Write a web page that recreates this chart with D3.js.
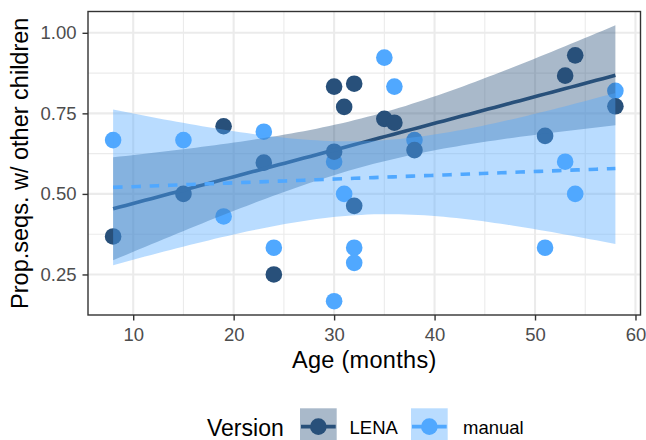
<!DOCTYPE html>
<html lang="en">
<head>
<meta charset="utf-8">
<title>Prop.seqs. w/ other children by age</title>
<script src="https://cdnjs.cloudflare.com/ajax/libs/d3/7.8.5/d3.min.js"></script>
<style>
  body { margin: 0; background: #fff; }
  svg text { font-family: "Liberation Sans", Arial, Helvetica, sans-serif; }
</style>
</head>
<body>
<div id="chart"></div>
<script>
// data (age in months, proportion)
const ageLENA = [8, 15, 19, 23, 24, 30, 30, 31, 32, 32, 35, 36, 38, 51, 53, 54, 58];
const propLENA = [0.368, 0.50, 0.71, 0.597, 0.25, 0.833, 0.631, 0.77, 0.842, 0.463, 0.733, 0.721, 0.636, 0.68, 0.867, 0.93, 0.772];
const ageManual = [8, 15, 19, 23, 24, 30, 30, 31, 32, 32, 35, 36, 38, 51, 53, 54, 58];
const propManual = [0.667, 0.667, 0.43, 0.693, 0.333, 0.60, 0.167, 0.50, 0.333, 0.286, 0.923, 0.833, 0.667, 0.333, 0.60, 0.50, 0.82];
const versions = ["LENA", "manual"];
const xTicks = [10, 20, 30, 40, 50, 60];
const yTicks = [0.25, 0.50, 0.75, 1.00];

const colors = { LENA: "#28507a", manual: "#50a8ff" };
const T_CRIT = 2.131; // qt(0.975, df = 15)

const w = 646, h = 440;
const panel = { left: 88, right: 640.5, top: 11.5, bottom: 315 };

// lm fit with 95% confidence band, like geom_smooth(method = "lm")
function fitLm(xs, ys) {
  const n = xs.length;
  const mx = d3.mean(xs), my = d3.mean(ys);
  let sxx = 0, sxy = 0;
  xs.forEach((x, i) => { sxx += (x - mx) ** 2; sxy += (x - mx) * (ys[i] - my); });
  const b = sxy / sxx, a = my - b * mx;
  let sse = 0;
  xs.forEach((x, i) => { sse += (ys[i] - a - b * x) ** 2; });
  const s = Math.sqrt(sse / (n - 2));
  const [x0, x1] = d3.extent(xs);
  return d3.range(80).map(k => {
    const x = x0 + (x1 - x0) * k / 79;
    const fit = a + b * x;
    const se = s * Math.sqrt(1 / n + (x - mx) ** 2 / sxx);
    return { x: x, y: fit, lo: fit - T_CRIT * se, hi: fit + T_CRIT * se };
  });
}

const groups = {
  LENA: ageLENA.map((a, i) => ({ age: a, prop: propLENA[i] })),
  manual: ageManual.map((a, i) => ({ age: a, prop: propManual[i] }))
};
const smooth = {
  LENA: fitLm(ageLENA, propLENA),
  manual: fitLm(ageManual, propManual)
};

// scale limits with ggplot's 5% expansion
const allX = ageLENA.concat(ageManual);
const allY = propLENA.concat(propManual,
  smooth.LENA.map(d => d.lo), smooth.LENA.map(d => d.hi),
  smooth.manual.map(d => d.lo), smooth.manual.map(d => d.hi));
const xr = d3.extent(allX), yr = d3.extent(allY);
const xe = (xr[1] - xr[0]) * 0.05, ye = (yr[1] - yr[0]) * 0.05;

const xScale = d3.scaleLinear().domain([xr[0] - xe, xr[1] + xe]).range([panel.left, panel.right]);
const yScale = d3.scaleLinear().domain([yr[0] - ye, yr[1] + ye]).range([panel.bottom, panel.top]);

const svg = d3.select("#chart").append("svg")
  .attr("width", w).attr("height", h)
  .style("display", "block");
svg.append("rect").attr("width", w).attr("height", h).attr("fill", "#fff");

const clip = svg.append("clipPath").attr("id", "panelclip").append("rect")
  .attr("x", panel.left).attr("y", panel.top)
  .attr("width", panel.right - panel.left).attr("height", panel.bottom - panel.top);

// grid
const grid = svg.append("g");
const xMinor = [15, 25, 35, 45, 55];
const yMinor = [0.375, 0.625, 0.875];
grid.selectAll(".xminor").data(xMinor).enter().append("line")
  .attr("x1", d => xScale(d)).attr("x2", d => xScale(d))
  .attr("y1", panel.top).attr("y2", panel.bottom)
  .attr("stroke", "#ebebeb").attr("stroke-width", 1.1);
grid.selectAll(".yminor").data(yMinor).enter().append("line")
  .attr("y1", d => yScale(d)).attr("y2", d => yScale(d))
  .attr("x1", panel.left).attr("x2", panel.right)
  .attr("stroke", "#ebebeb").attr("stroke-width", 1.1);
grid.selectAll(".xmajor").data(xTicks).enter().append("line")
  .attr("x1", d => xScale(d)).attr("x2", d => xScale(d))
  .attr("y1", panel.top).attr("y2", panel.bottom)
  .attr("stroke", "#ebebeb").attr("stroke-width", 2.1);
grid.selectAll(".ymajor").data(yTicks).enter().append("line")
  .attr("y1", d => yScale(d)).attr("y2", d => yScale(d))
  .attr("x1", panel.left).attr("x2", panel.right)
  .attr("stroke", "#ebebeb").attr("stroke-width", 2.1);

const plot = svg.append("g").attr("clip-path", "url(#panelclip)");

// points: manual first, LENA on top
["manual", "LENA"].forEach(v => {
  plot.selectAll(".pt-" + v).data(groups[v]).enter().append("circle")
    .attr("cx", d => xScale(d.age))
    .attr("cy", d => yScale(d.prop))
    .attr("r", 8.3)
    .attr("fill", colors[v]);
});

// smooths: ribbon then line, drawn over the points
const area = d3.area().x(d => xScale(d.x)).y0(d => yScale(d.lo)).y1(d => yScale(d.hi));
const line = d3.line().x(d => xScale(d.x)).y(d => yScale(d.y));
versions.forEach(v => {
  plot.append("path").datum(smooth[v])
    .attr("d", area)
    .attr("fill", colors[v]).attr("fill-opacity", 0.4);
  plot.append("path").datum(smooth[v])
    .attr("d", line)
    .attr("fill", "none")
    .attr("stroke", colors[v])
    .attr("stroke-width", 3.6)
    .attr("stroke-dasharray", v === "manual" ? "9.5,8.8" : null);
});

// panel border
svg.append("rect")
  .attr("x", panel.left).attr("y", panel.top)
  .attr("width", panel.right - panel.left).attr("height", panel.bottom - panel.top)
  .attr("fill", "none").attr("stroke", "#333").attr("stroke-width", 1.4);

// axes
const xAxis = svg.append("g")
  .attr("transform", `translate(0,${panel.bottom})`)
  .call(d3.axisBottom(xScale).tickValues(xTicks).tickSize(5.5).tickPadding(7).tickFormat(d3.format("d")));
const yAxis = svg.append("g")
  .attr("transform", `translate(${panel.left},0)`)
  .call(d3.axisLeft(yScale).tickValues(yTicks).tickSize(5.5).tickPadding(6).tickFormat(d3.format(".2f")));
[xAxis, yAxis].forEach(ax => {
  ax.select(".domain").remove();
  ax.selectAll(".tick line").attr("stroke", "#333").attr("stroke-width", 1.4);
  ax.selectAll(".tick text").attr("fill", "#4d4d4d").style("font-size", "18.5px");
});

svg.append("text")
  .attr("x", (panel.left + panel.right) / 2).attr("y", 367.5)
  .attr("text-anchor", "middle")
  .style("font-size", "23.5px").style("letter-spacing", "0.3px").attr("fill", "#000")
  .text("Age (months)");

svg.append("text")
  .attr("transform", `translate(27.5,${(panel.top + panel.bottom) / 2}) rotate(-90)`)
  .attr("text-anchor", "middle")
  .style("font-size", "23.5px").attr("fill", "#000")
  .text("Prop.seqs. w/ other children");

// legend
const legend = svg.append("g");
legend.append("text")
  .attr("x", 207).attr("y", 435.5)
  .style("font-size", "23px").attr("fill", "#000")
  .text("Version");
const keyX = { LENA: 300, manual: 411 };
const labX = { LENA: 349.5, manual: 463 };
const keyS = 36.7, keyY = 408.3;
versions.forEach(v => {
  const g = legend.append("g").attr("transform", `translate(${keyX[v]},${keyY})`);
  g.append("rect").attr("width", keyS).attr("height", keyS)
    .attr("fill", colors[v]).attr("fill-opacity", 0.4);
  g.append("line")
    .attr("x1", 1).attr("x2", keyS - 1)
    .attr("y1", keyS / 2).attr("y2", keyS / 2)
    .attr("stroke", colors[v]).attr("stroke-width", 3.6);
  g.append("circle")
    .attr("cx", keyS / 2).attr("cy", keyS / 2).attr("r", 8.3)
    .attr("fill", colors[v]);
  legend.append("text")
    .attr("x", labX[v]).attr("y", 433.5)
    .style("font-size", "18.5px").attr("fill", "#000")
    .text(v);
});
</script>
</body>
</html>
